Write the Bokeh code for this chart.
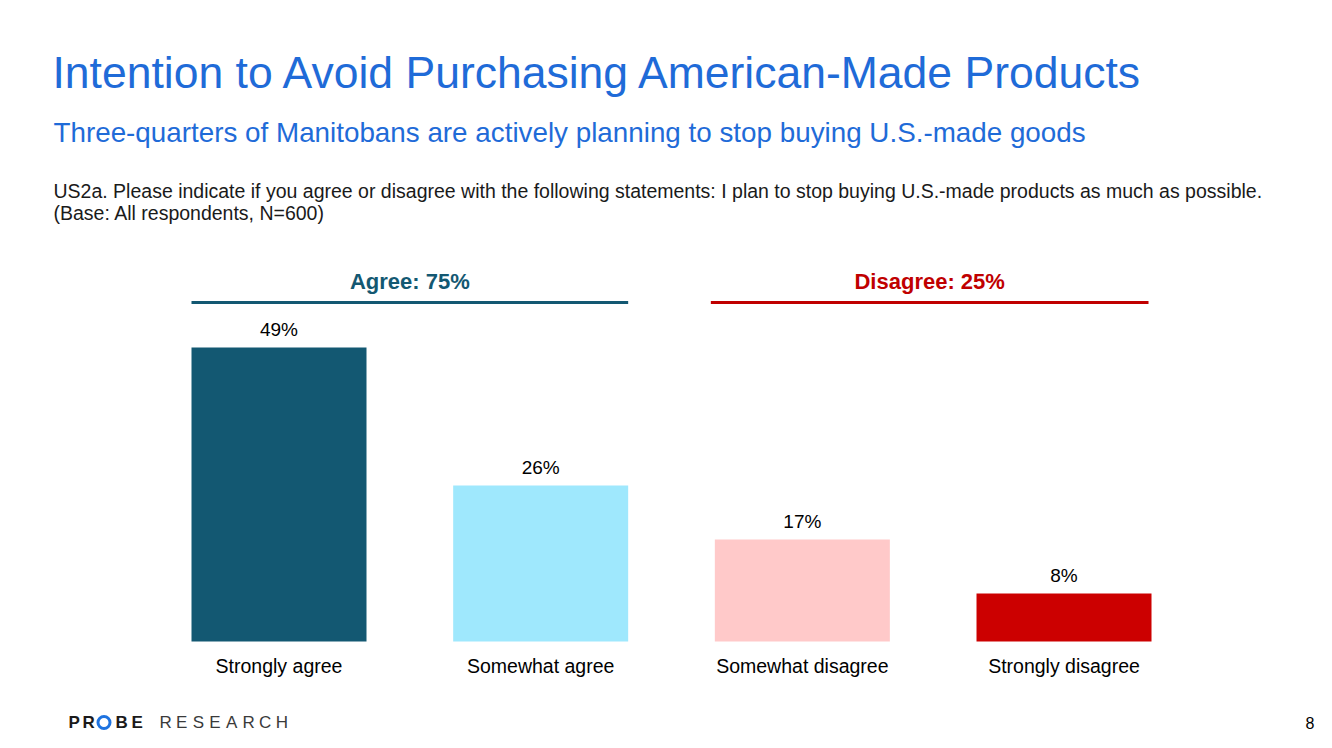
from bokeh.plotting import figure
from bokeh.models import Range1d, Label, BoxAnnotation, ColumnDataSource
from bokeh.embed import file_html
from bokeh.resources import INLINE
from bokeh.core.properties import value

# ---------------- data ----------------
categories = ["Strongly agree", "Somewhat agree", "Somewhat disagree", "Strongly disagree"]
values = [49, 26, 17, 8]
bar_colors = ["#135872", "#9FE8FD", "#FFC9C9", "#CC0000"]

groups = ["Agree", "Disagree"]
group_totals = [75, 25]
group_first = [0, 2]
group_last = [1, 3]
group_colors = ["#135872", "#C00000"]

title_text = "Intention to Avoid Purchasing American-Made Products"
subtitle_text = "Three-quarters of Manitobans are actively planning to stop buying U.S.-made goods"
question_lines = [
    "US2a. Please indicate if you agree or disagree with the following statements: I plan to stop buying U.S.-made products as much as possible.",
    "(Base: All respondents, N=600)",
]
page_number = "8"
logo_word1 = "PROBE"
logo_word2 = "RESEARCH"

# ---------------- layout ----------------
W, H = 1316, 732
PITCH = 261.67          # pixels per category
PPU = 6.0               # pixels per percentage point
BASE_PX = 641           # baseline position from top
FIRST_PX = 278.5        # first category centre from left
X0 = -FIRST_PX / PITCH
X1 = (W - FIRST_PX) / PITCH
Y0 = -(H - BASE_PX) / PPU
Y1 = BASE_PX / PPU
BAR_W = 175 / PITCH
FONT = "Liberation Sans"
BLUE = "#1F6BD8"


def px(ix):
    """page x pixel -> data x (for text placement)"""
    return (ix - FIRST_PX) / PITCH


def py(iy):
    """page y pixel -> data y (for text placement)"""
    return (BASE_PX - iy) / PPU


p = figure(width=W, height=H, output_backend="svg", toolbar_location=None,
           x_range=Range1d(X0, X1), y_range=Range1d(Y0, Y1),
           min_border=0)
p.background_fill_color = "white"
p.border_fill_color = "white"
p.outline_line_color = None
p.grid.visible = False
p.axis.visible = False

idx = list(range(len(categories)))
src = ColumnDataSource(dict(x=idx, top=values, color=bar_colors, cat=categories,
                            zero=[0] * len(idx), label=[f"{v}%" for v in values]))
p.vbar(x="x", top="top", bottom=0, width=BAR_W, fill_color="color", line_color=None, source=src)
p.text(x="x", y="top", text="label", source=src, text_align="center", text_baseline="middle",
       y_offset=-18, text_font_size="19px", text_color="#000000", text_font=value(FONT))
# category labels (x axis)
p.text(x="x", y="zero", text="cat", source=src, text_align="center", text_baseline="middle",
       y_offset=24, text_font_size="19.5px", text_color="#000000", text_font=value(FONT))

# group headers
line_y = py(302)
text_y = py(281)
for g, tot, a, b, col in zip(groups, group_totals, group_first, group_last, group_colors):
    xa = a - BAR_W / 2 - (4 / PITCH if a > 0 else 0)
    xb = b + BAR_W / 2 - (3 / PITCH if a > 0 else 0)
    p.segment(x0=[xa], y0=[line_y], x1=[xb], y1=[line_y], line_color=col, line_width=3)
    p.add_layout(Label(x=(xa + xb) / 2, y=text_y, text=f"{g}: {tot}%", text_align="center",
                       text_baseline="middle", text_font=FONT, text_font_size="22px",
                       text_font_style="bold", text_color=col))

# titles
p.add_layout(Label(x=px(52), y=py(72), text=title_text, text_font=FONT, text_font_size="44.5px",
                   text_color=BLUE, text_baseline="middle", text_align="left"))
p.add_layout(Label(x=px(53), y=py(132), text=subtitle_text, text_font=FONT, text_font_size="27.8px",
                   text_color=BLUE, text_baseline="middle", text_align="left"))
for i, line in enumerate(question_lines):
    p.add_layout(Label(x=px(53), y=py(190 + 22 * i), text=line, text_font=FONT, text_font_size="19.5px",
                       text_color="#1a1a1a", text_baseline="middle", text_align="left"))

# logo
logo_y = py(722)
for letter, lx in zip(logo_word1, [68, 82, None, 115, 131]):
    if lx is None:
        continue
    p.add_layout(Label(x=px(lx), y=logo_y, text=letter, text_font=FONT, text_font_size="17px",
                       text_font_style="bold", text_color="#1a1a1a", text_baseline="middle"))
p.add_layout(BoxAnnotation(left=px(97.5), right=px(109.5), top=py(716), bottom=py(728),
                           fill_color=None, line_color="#1E73E0", line_alpha=1.0, line_width=3,
                           border_radius=6, level="annotation"))
for j, letter in enumerate(logo_word2):
    p.add_layout(Label(x=px(159 + 16.6 * j), y=logo_y, text=letter, text_font=FONT,
                       text_font_size="17px", text_color="#3a3a3a", text_baseline="middle"))

# page number
p.add_layout(Label(x=px(1314), y=py(722), text=page_number, text_font=FONT, text_font_size="16px",
                   text_color="#000000", text_baseline="middle", text_align="right"))

open("out.html", "w").write(file_html(p, INLINE))
